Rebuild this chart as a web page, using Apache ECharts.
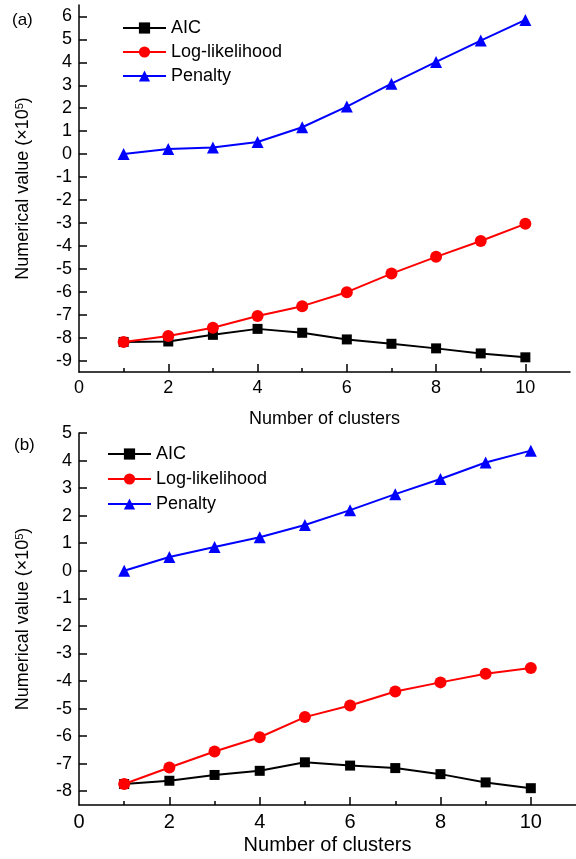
<!DOCTYPE html>
<html>
<head>
<meta charset="utf-8">
<script src="https://cdn.jsdelivr.net/npm/echarts@6/dist/echarts.min.js"></script>
<style>
    html, body {margin: 0; padding: 0; background: #fff;}
    #chart {width: 576px; height: 859px;}
</style>
</head>
<body>
<div id="chart"></div>
<script>
// number of clusters
var clusters = [1, 2, 3, 4, 5, 6, 7, 8, 9, 10];

// panel (a), values in 1e5
var aicA = [-8.19, -8.17, -7.88, -7.62, -7.79, -8.08, -8.27, -8.47, -8.69, -8.86];
var logLikA = [-8.19, -7.93, -7.57, -7.06, -6.63, -6.02, -5.21, -4.48, -3.79, -3.04];
var penaltyA = [0, 0.22, 0.29, 0.53, 1.17, 2.07, 3.07, 4.02, 4.95, 5.85];

// panel (b), values in 1e5
var aicB = [-7.74, -7.62, -7.41, -7.26, -6.95, -7.07, -7.16, -7.38, -7.68, -7.89];
var logLikB = [-7.74, -7.14, -6.56, -6.04, -5.31, -4.89, -4.38, -4.05, -3.74, -3.53];
var penaltyB = [0, 0.5, 0.86, 1.22, 1.66, 2.2, 2.78, 3.33, 3.93, 4.36];

// tick labels
var xLabels = [0, 2, 4, 6, 8, 10];
var xMinor = [1, 3, 5, 7, 9];
var yLabelsA = [-9, -8, -7, -6, -5, -4, -3, -2, -1, 0, 1, 2, 3, 4, 5, 6];
var yLabelsB = [-8, -7, -6, -5, -4, -3, -2, -1, 0, 1, 2, 3, 4, 5];

var FONT = "'Liberation Sans', Arial, sans-serif";
var names = ['AIC', 'Log-likelihood', 'Penalty'];

var pairs = function (ys) {
    return clusters.map(function (c, i) { return [c, ys[i]]; });
};

var lineSeries = function (name, ys, gridIdx) {
    var styles = {
        'AIC': {color: '#000000', symbol: 'rect', size: 10},
        'Log-likelihood': {color: '#ff0000', symbol: 'circle', size: 12},
        'Penalty': {color: '#0000ff', symbol: 'triangle', size: 12}
    };
    var s = styles[name];
    return {
        name: name,
        type: 'line',
        xAxisIndex: gridIdx * 2,
        yAxisIndex: gridIdx,
        data: pairs(ys),
        symbol: s.symbol,
        symbolSize: s.size,
        showAllSymbol: true,
        color: s.color,
        lineStyle: {color: s.color, width: 2},
        itemStyle: {color: s.color},
        animation: false,
        z: name == 'AIC' ? 2 : (name == 'Log-likelihood' ? 3 : 4)
    };
};

var xAxes = function (gridIdx, max, fontSize, gap) {
    return [{
        type: 'value', gridIndex: gridIdx, position: 'bottom', min: 0, max: max,
        name: 'Number of clusters', nameLocation: 'middle', nameGap: gap,
        nameTextStyle: {fontFamily: FONT, fontSize: fontSize, color: '#000'},
        axisLine: {onZero: false, lineStyle: {color: '#000', width: 1.5}},
        axisTick: {inside: true, length: 8, customValues: [2, 4, 6, 8, 10], lineStyle: {color: '#000', width: 1.5}},
        axisLabel: {customValues: xLabels, margin: 7, fontFamily: FONT, fontSize: fontSize, color: '#000'},
        splitLine: {show: false}
    }, {
        // minor ticks on odd cluster counts
        type: 'value', gridIndex: gridIdx, position: 'bottom', offset: 0, min: 0, max: max,
        axisLine: {show: false, onZero: false},
        axisTick: {inside: true, length: 4, customValues: xMinor, lineStyle: {color: '#000', width: 1.5}},
        axisLabel: {show: false},
        splitLine: {show: false}
    }];
};

var yAxis = function (gridIdx, min, max, labels, gap) {
    return {
        type: 'value', gridIndex: gridIdx, min: min, max: max,
        name: 'Numerical value (×10{sup|5})', nameLocation: 'middle', nameRotate: 90, nameGap: gap,
        nameTextStyle: {
            fontFamily: FONT, fontSize: 18, color: '#000',
            rich: {sup: {fontFamily: FONT, fontSize: 11, color: '#000', verticalAlign: 'top', padding: [0, 0, 8, 0]}}
        },
        axisLine: {onZero: false, lineStyle: {color: '#000', width: 1.5}},
        axisTick: {inside: true, length: 8, customValues: labels, lineStyle: {color: '#000', width: 1.5}},
        axisLabel: {customValues: labels, margin: 7, fontFamily: FONT, fontSize: 18, color: '#000'},
        splitLine: {show: false}
    };
};

var legend = function (left, top, gap) {
    return {
        data: names, orient: 'vertical', left: left, top: top,
        itemWidth: 43, itemHeight: 14, itemGap: gap,
        textStyle: {fontFamily: FONT, fontSize: 18, color: '#000'},
        selectedMode: false
    };
};

var chart = echarts.init(document.getElementById('chart'));

chart.setOption({
    animation: false,
    backgroundColor: '#fff',
    grid: [
        {left: 79, top: 5, width: 491, height: 367},
        {left: 79, top: 433, width: 499, height: 372}
    ],
    xAxis: xAxes(0, 11, 18, 38).concat(xAxes(1, 11, 20, 30)),
    yAxis: [
        yAxis(0, -9.5, 6.5, yLabelsA, 46),
        yAxis(1, -8.5, 5, yLabelsB, 46)
    ],
    legend: [legend(117, 14, 6), legend(102, 440, 7)],
    graphic: [
        {type: 'text', left: 12, top: 12, style: {text: '(a)', fontFamily: FONT, fontSize: 17, fill: '#000'}},
        {type: 'text', left: 14, top: 437, style: {text: '(b)', fontFamily: FONT, fontSize: 17, fill: '#000'}}
    ],
    series: [
        lineSeries('AIC', aicA, 0),
        lineSeries('Log-likelihood', logLikA, 0),
        lineSeries('Penalty', penaltyA, 0),
        lineSeries('AIC', aicB, 1),
        lineSeries('Log-likelihood', logLikB, 1),
        lineSeries('Penalty', penaltyB, 1)
    ]
});
</script>
</body>
</html>
